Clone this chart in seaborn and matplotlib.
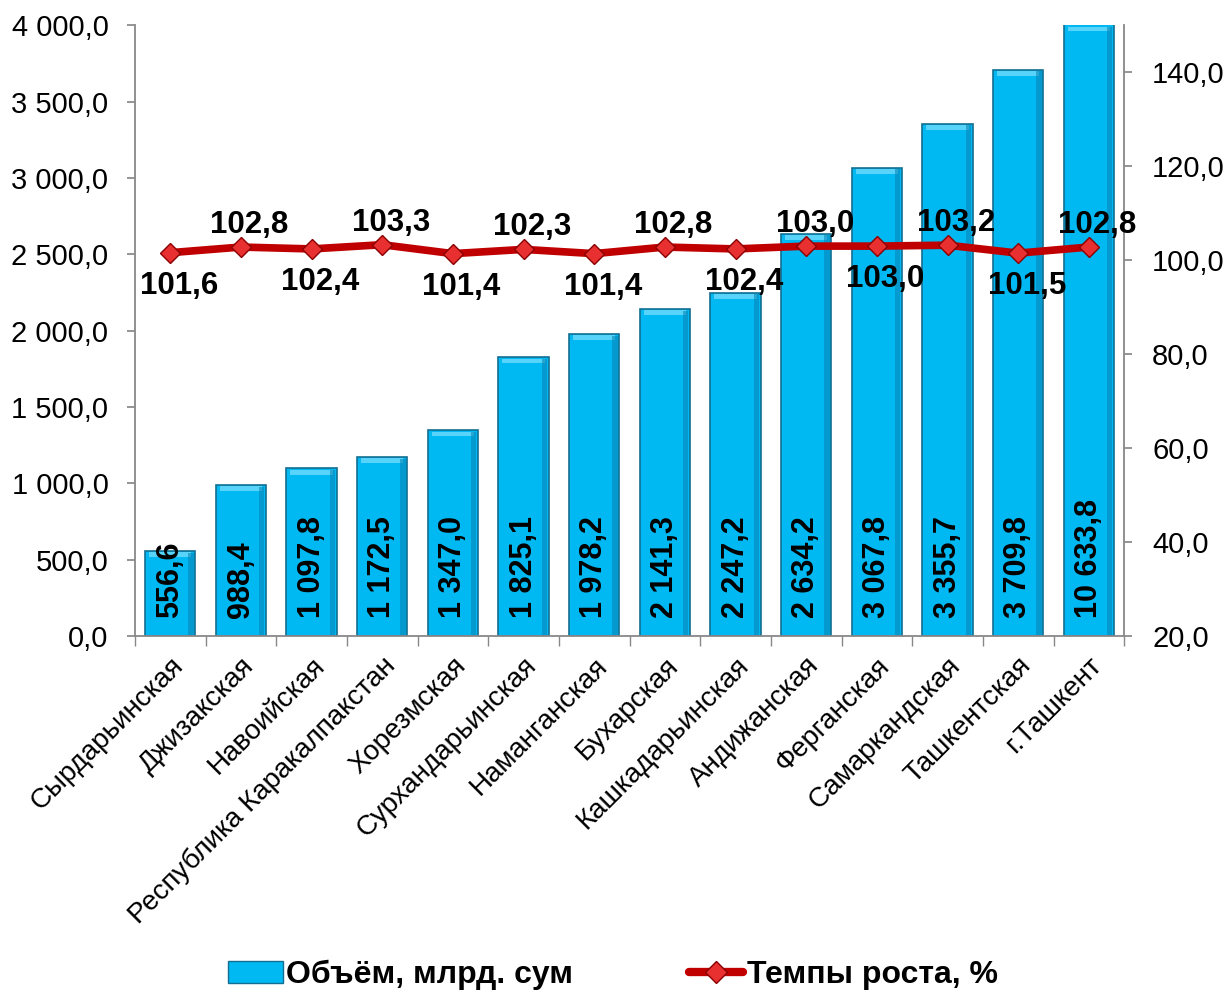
import numpy as np
import matplotlib
matplotlib.use("Agg")
import matplotlib.pyplot as plt
import seaborn as sns
import pandas as pd
from matplotlib.ticker import FuncFormatter, FixedLocator
from matplotlib.lines import Line2D
from matplotlib.patches import Patch

regions = ["Сырдарьинская", "Джизакская", "Навоийская", "Республика Каракалпакстан",
           "Хорезмская", "Сурхандарьинская", "Наманганская", "Бухарская",
           "Кашкадарьинская", "Андижанская", "Ферганская", "Самаркандская",
           "Ташкентская", "г.Ташкент"]
volume = [556.6, 988.4, 1097.8, 1172.5, 1347.0, 1825.1, 1978.2, 2141.3,
          2247.2, 2634.2, 3067.8, 3355.7, 3709.8, 10633.8]
growth = [101.6, 102.8, 102.4, 103.3, 101.4, 102.3, 101.4, 102.8,
          102.4, 103.0, 103.0, 103.2, 101.5, 102.8]

sns.set_theme(style="white")
plt.rcParams["font.family"] = ["Liberation Sans", "DejaVu Sans"]
plt.rcParams["text.color"] = "black"
plt.rcParams["xtick.labelcolor"] = "black"
plt.rcParams["ytick.labelcolor"] = "black"


def fmt_num(v):
    s = f"{v:,.1f}".replace(",", " ").replace(".", ",")
    return s


df = pd.DataFrame({"region": regions, "volume": volume})

fig = plt.figure(figsize=(12.26, 9.93), dpi=100)
ax = fig.add_axes([0.110, 0.3595, 0.807, 0.615])

sns.barplot(data=df, x="region", y="volume", ax=ax, color="#00B8F2",
            saturation=1, width=0.71, edgecolor="#136F92", linewidth=1.2)
ax.set_ylim(0, 4000)
ax.set_xlim(-0.5, len(regions) - 0.5)
ax.set_xlabel("")
ax.set_ylabel("")

# bevel highlights on bars
for p in ax.patches:
    x0, w = p.get_x(), p.get_width()
    top = min(p.get_height(), 4000)
    ax.fill_between([x0 + w * 0.08, x0 + w * 0.92], top - 40, top - 8,
                    color="#7FE0FF", alpha=0.7, linewidth=0, zorder=p.get_zorder() + 0.1)
    ax.fill_between([x0 + w * 0.86, x0 + w * 0.97], 5, top - 10,
                    color="#0A86B8", alpha=0.6, linewidth=0, zorder=p.get_zorder() + 0.1)

for i, v in enumerate(volume):
    ax.text(i, 120, fmt_num(v), rotation=90, ha="center", va="bottom",
            fontsize=22, fontweight="bold", color="black", zorder=5)

ax.yaxis.set_major_locator(FixedLocator(np.arange(0, 4001, 500)))
ax.yaxis.set_major_formatter(FuncFormatter(lambda v, p: fmt_num(v)))
ax.tick_params(axis="y", labelsize=21, length=6, color="#888888", left=True, pad=13)

ax.set_xticks(range(len(regions)))
ax.set_xticklabels(regions, rotation=45, ha="right", rotation_mode="anchor", fontsize=20)
ax.tick_params(axis="x", length=0, pad=12)
ax.set_xticks(np.arange(-0.5, len(regions), 1), minor=True)
ax.tick_params(axis="x", which="minor", length=7, color="#888888", bottom=True)

for s in ["top", "right"]:
    ax.spines[s].set_visible(False)
for s in ["left", "bottom"]:
    ax.spines[s].set_color("#888888")
    ax.spines[s].set_linewidth(1.3)

ax2 = ax.twinx()
ax2.plot(range(len(regions)), growth, color="#C00000", linewidth=5.5, zorder=3,
         solid_capstyle="round")
ax2.plot(range(len(regions)), growth, linestyle="none", marker="D", markersize=10,
         markerfacecolor="#E83030", markeredgecolor="#8B0000", markeredgewidth=1, zorder=4)
ax2.set_ylim(20, 150)
ax2.yaxis.set_major_locator(FixedLocator(np.arange(20, 141, 20)))
ax2.yaxis.set_major_formatter(FuncFormatter(lambda v, p: fmt_num(v)))
ax2.tick_params(axis="y", labelsize=21, length=6, color="#888888", right=True, pad=14)
for s in ["top", "left", "bottom"]:
    ax2.spines[s].set_visible(False)
ax2.spines["right"].set_color("#888888")
ax2.spines["right"].set_linewidth(1.3)

for i, g in enumerate(growth):
    off = 4.7 if i % 2 == 1 else -7.0
    ax2.text(i + 0.12, g + off, fmt_num(g), ha="center", va="center", fontsize=22.5,
             fontweight="bold", color="black", zorder=6)

handles = [Patch(facecolor="#00B8F2", edgecolor="#136F92"),
           Line2D([0], [0], color="#C00000", linewidth=6, marker="D", markersize=11,
                  markerfacecolor="#E83030", markeredgecolor="#8B0000")]
fig.legend(handles, ["Объём, млрд. сум", "Темпы роста, %"], loc="center",
           bbox_to_anchor=(0.5, 0.018), ncol=2, frameon=False,
           prop={"weight": "bold", "size": 23}, columnspacing=3.6, handlelength=1.7,
           handletextpad=0.12)

fig.savefig("out.png", dpi=100)
